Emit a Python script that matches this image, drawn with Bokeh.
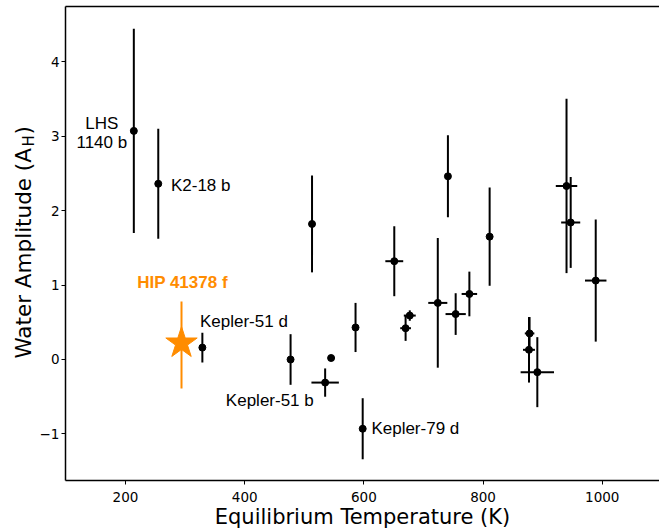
import numpy as np
from math import pi
from bokeh.plotting import figure
from bokeh.models import Range1d, LinearAxis, FixedTicker, Label
from bokeh.embed import file_html
from bokeh.resources import INLINE

# ---- data ----
planet_names = ["LHS 1140 b", "K2-18 b", "Kepler-51 d", "", "", "Kepler-51 b", "", "", "Kepler-79 d",
                "", "", "", "", "", "", "", "", "", "", "", "", "", ""]
planet_teq = [214, 255, 329, 477, 513, 535, 545, 586, 598, 651, 670, 677, 724, 741, 754, 777, 811,
              878, 877, 891, 940, 947, 989]
planet_teq_err = [0, 0, 0, 0, 0, 23, 0, 0, 0, 15, 9, 10, 16, 0, 17, 13, 0, 8, 10, 28, 18, 16, 18]
planet_amp = [3.07, 2.36, 0.16, 0.00, 1.82, -0.31, 0.02, 0.43, -0.93, 1.32, 0.42, 0.59, 0.76, 2.46,
              0.61, 0.88, 1.65, 0.35, 0.13, -0.17, 2.33, 1.84, 1.06]
planet_amp_err = [1.37, 0.74, 0.20, 0.34, 0.65, 0.19, 0.0, 0.33, 0.41, 0.47, 0.17, 0.07, 0.87, 0.55,
                  0.28, 0.30, 0.66, 0.22, 0.44, 0.47, 1.17, 0.61, 0.82]

hip_name = "HIP 41378 f"
hip_teq = [294]
hip_amp = [0.22]
hip_amp_err_lo = [0.61]
hip_amp_err_hi = [0.56]

x_ticks = [200, 400, 600, 800, 1000]
y_ticks = [-1, 0, 1, 2, 3, 4]
y_tick_labels = {-1: "\u22121", 0: "0", 1: "1", 2: "2", 3: "3", 4: "4"}

x_title = "Equilibrium Temperature (K)"
y_title_main = "Water Amplitude (A"
y_title_sub = "H"
y_title_end = ")"

# axes box (data limits of the drawn axes)
XMIN, XMAX = 99.3, 1096
YMIN, YMAX = -1.625, 4.739
# whole canvas in data units (axes are drawn at fixed locations inside it)
CX0, CX1 = -9.7, 1096
CY0, CY1 = -2.283, 4.821

ORANGE = "#ff8c00"
TICK_FONT = "DejaVu Sans"
ANN_FONT = "Liberation Sans"
LBL_SHIFT = 6  # baseline correction (px)

p = figure(width=659, height=529, x_range=Range1d(CX0, CX1), y_range=Range1d(CY0, CY1),
           output_backend="svg", toolbar_location=None,
           min_border_left=0, min_border_right=0, min_border_top=0, min_border_bottom=0)
p.outline_line_color = None
p.xgrid.grid_line_color = None
p.ygrid.grid_line_color = None
p.background_fill_color = "white"
p.border_fill_color = "white"

for ax in (p.xaxis[0], p.yaxis[0]):
    ax.axis_line_width = 1.5
    ax.axis_line_color = "black"
    ax.major_tick_line_color = "black"
    ax.major_tick_line_width = 1
    ax.major_tick_out = 4
    ax.major_tick_in = 0
    ax.minor_tick_line_color = None
    ax.major_label_text_font = TICK_FONT
    ax.major_label_text_font_size = "13.5px"
    ax.major_label_text_color = "black"

p.xaxis.fixed_location = YMIN
p.xaxis.bounds = (XMIN, XMAX)
p.yaxis.fixed_location = XMIN
p.yaxis.bounds = (YMIN, YMAX)
p.xaxis.ticker = FixedTicker(ticks=x_ticks)
p.yaxis.ticker = FixedTicker(ticks=y_ticks)
p.yaxis.major_label_overrides = y_tick_labels
p.xaxis.major_label_standoff = 7
p.yaxis.major_label_standoff = 2
p.xaxis.axis_label = x_title
p.xaxis.axis_label_text_font = TICK_FONT
p.xaxis.axis_label_text_font_size = "21px"
p.xaxis.axis_label_text_font_style = "normal"
p.xaxis.axis_label_text_color = "black"
p.xaxis.axis_label_standoff = 0

top_axis = LinearAxis(ticker=FixedTicker(ticks=[]), axis_line_width=1.5, axis_line_color="black",
                      major_tick_line_color=None, minor_tick_line_color=None,
                      major_tick_out=0, major_tick_in=0, major_label_text_font_size="0px",
                      fixed_location=YMAX, bounds=(XMIN, XMAX))
p.add_layout(top_axis, "above")

# ---- error bars and points ----
tx = np.array(planet_teq, dtype=float)
te = np.array(planet_teq_err, dtype=float)
ay = np.array(planet_amp, dtype=float)
ae = np.array(planet_amp_err, dtype=float)

p.segment(x0=tx, y0=ay - ae, x1=tx, y1=ay + ae, line_color="black", line_width=2)
p.segment(x0=tx - te, y0=ay, x1=tx + te, y1=ay, line_color="black", line_width=2)
p.scatter(tx, ay, size=7, color="black")

hx = np.array(hip_teq, dtype=float)
hy = np.array(hip_amp, dtype=float)
p.segment(x0=hx, y0=hy - np.array(hip_amp_err_lo), x1=hx, y1=hy + np.array(hip_amp_err_hi),
          line_color=ORANGE, line_width=2)
p.scatter(hx, hy, marker="star", size=33, color=ORANGE)

# ---- annotations ----
def ann(i, text, dx, dy, align="left"):
    p.add_layout(Label(x=planet_teq[i], y=planet_amp[i], x_offset=dx, y_offset=dy + LBL_SHIFT,
                       text=text, text_font=ANN_FONT, text_font_size="17px", text_color="black",
                       text_align=align, text_baseline="alphabetic"))

lhs = planet_names[0].split(" ", 1)
ann(0, lhs[0], -32, 1.5, align="center")
ann(0, lhs[1], -32, -18.0, align="center")
ann(1, planet_names[1], 12.7, -7.4)
ann(2, planet_names[2], -2.4, 19.7)
ann(5, planet_names[5], -11.4, -24, align="right")
ann(8, planet_names[8], 8.7, -6)

p.add_layout(Label(x=hip_teq[0], y=hip_amp[0], x_offset=1, y_offset=54.4 + LBL_SHIFT, text=hip_name,
                   text_font=ANN_FONT, text_font_size="17px", text_font_style="bold",
                   text_color=ORANGE, text_align="center", text_baseline="alphabetic"))

# ---- y axis title with subscript ----
Y0 = 0.013
p.add_layout(Label(x=XMIN, y=Y0, x_offset=-35.5 - LBL_SHIFT, y_offset=0, angle=pi / 2,
                   text=y_title_main, text_font=TICK_FONT, text_font_size="21.5px",
                   text_color="black", text_align="left", text_baseline="alphabetic"))
p.add_layout(Label(x=XMIN, y=Y0, x_offset=-30.5 - LBL_SHIFT, y_offset=212, angle=pi / 2,
                   text=y_title_sub, text_font=TICK_FONT, text_font_size="15px",
                   text_color="black", text_align="left", text_baseline="alphabetic"))
p.add_layout(Label(x=XMIN, y=Y0, x_offset=-35.5 - LBL_SHIFT, y_offset=224, angle=pi / 2,
                   text=y_title_end, text_font=TICK_FONT, text_font_size="21.5px",
                   text_color="black", text_align="left", text_baseline="alphabetic"))

open("out.html", "w").write(file_html(p, INLINE))
